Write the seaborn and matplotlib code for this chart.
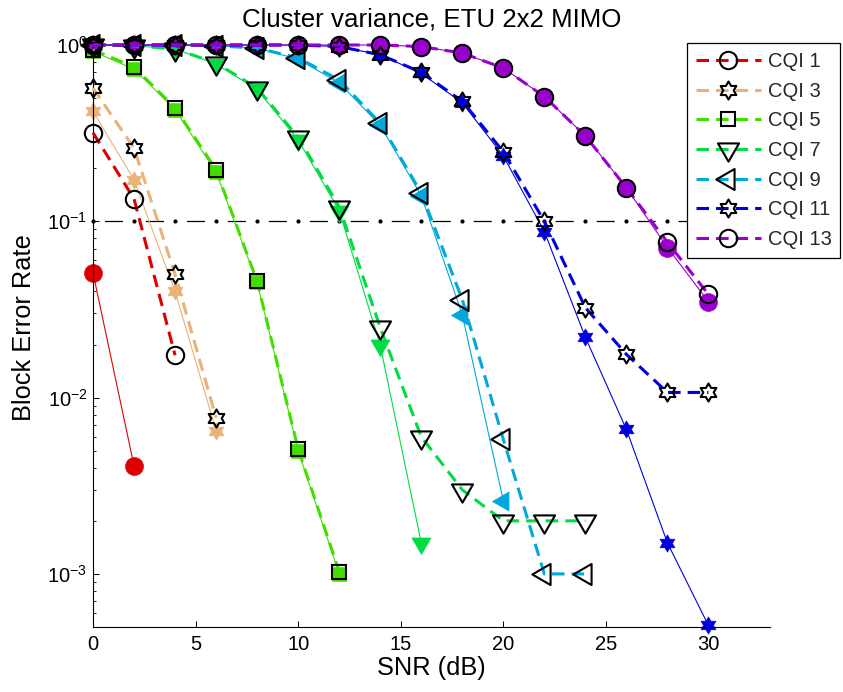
import numpy as np
import matplotlib
matplotlib.use("Agg")
import matplotlib.pyplot as plt
from matplotlib.path import Path
from matplotlib.ticker import LogLocator, NullFormatter, FixedLocator
import pandas as pd
import seaborn as sns

sns.set_theme(style="ticks")
plt.rcParams["font.family"] = ["Liberation Sans", "DejaVu Sans"]
plt.rcParams["mathtext.fontset"] = "custom"
plt.rcParams["mathtext.rm"] = "Liberation Sans"
plt.rcParams["mathtext.it"] = "Liberation Sans:italic"
plt.rcParams["mathtext.bf"] = "Liberation Sans:bold"

# ---------------------------------------------------------------- data
title = "Cluster variance, ETU 2x2 MIMO"
x_label = "SNR (dB)"
y_label = "Block Error Rate"
cqi_labels = ["CQI 1", "CQI 3", "CQI 5", "CQI 7", "CQI 9", "CQI 11", "CQI 13"]
cqi_colors = ["#dd0000", "#e9b277", "#44dd00", "#00dd44", "#00a8dc", "#0000dd", "#9a00cc"]

snr_cqi1_solid = [0, 2]
bler_cqi1_solid = [0.051, 0.0041]
snr_cqi1_dashed = [0, 2, 4]
bler_cqi1_dashed = [0.318, 0.134, 0.0174]

snr_cqi3 = [0, 2, 4, 6]
bler_cqi3_solid = [0.42, 0.172, 0.040, 0.0065]
bler_cqi3_dashed = [0.57, 0.26, 0.050, 0.0077]

snr_cqi5 = [0, 2, 4, 6, 8, 10, 12]
bler_cqi5_solid = [0.92, 0.73, 0.43, 0.19, 0.045, 0.0050, 0.0010]
bler_cqi5_dashed = [0.94, 0.75, 0.44, 0.196, 0.0456, 0.0051, 0.00103]

snr_cqi7_solid = [0, 2, 4, 6, 8, 10, 12, 14, 16]
bler_cqi7_solid = [1.0, 0.99, 0.95, 0.78, 0.56, 0.29, 0.115, 0.0198, 0.0015]
snr_cqi7_dashed = [0, 2, 4, 6, 8, 10, 12, 14, 16, 18, 20, 22, 24]
bler_cqi7_dashed = [1.0, 0.99, 0.95, 0.79, 0.57, 0.30, 0.121, 0.025, 0.0060,
                    0.0030, 0.0020, 0.0020, 0.0020]

snr_cqi9_solid = [0, 2, 4, 6, 8, 10, 12, 14, 16, 18, 20]
bler_cqi9_solid = [1.0, 1.0, 1.0, 0.99, 0.96, 0.83, 0.61, 0.35, 0.14, 0.0296, 0.0026]
snr_cqi9_dashed = [0, 2, 4, 6, 8, 10, 12, 14, 16, 18, 20, 22, 24]
bler_cqi9_dashed = [1.0, 1.0, 1.0, 0.99, 0.96, 0.845, 0.634, 0.36, 0.145, 0.036,
                    0.0058, 0.0010, 0.0010]

snr_cqi11 = [0, 2, 4, 6, 8, 10, 12, 14, 16, 18, 20, 22, 24, 26, 28, 30]
bler_cqi11_solid = [1.0, 1.0, 1.0, 1.0, 1.0, 1.0, 0.98, 0.88, 0.69, 0.47, 0.235,
                    0.0875, 0.022, 0.0066, 0.0015, 0.00051]
bler_cqi11_dashed = [1.0, 1.0, 1.0, 1.0, 1.0, 1.0, 0.98, 0.88, 0.70, 0.48, 0.248,
                     0.100, 0.0324, 0.0176, 0.0107, 0.0107]

snr_cqi13 = [0, 2, 4, 6, 8, 10, 12, 14, 16, 18, 20, 22, 24, 26, 28, 30]
bler_cqi13_solid = [1.0, 1.0, 1.0, 1.0, 1.0, 1.0, 1.0, 1.0, 0.98, 0.90, 0.74,
                    0.51, 0.305, 0.155, 0.071, 0.035]
bler_cqi13_dashed = [1.0, 1.0, 1.0, 1.0, 1.0, 1.0, 1.0, 1.0, 0.98, 0.90, 0.74,
                     0.51, 0.305, 0.155, 0.076, 0.0385]

target_bler = 0.1
target_snr = [0, 2, 4, 6, 8, 10, 12, 14, 16, 18, 20, 22, 24, 26, 28, 30, 32]

x_ticks = [0, 5, 10, 15, 20, 25, 30]
x_limits = (0, 33)
y_limits = (5e-4, 1.0)


# ---------------------------------------------------------------- markers
def hexagram():
    ang = np.pi / 2 + np.arange(12) * np.pi / 6
    r = np.where(np.arange(12) % 2 == 0, 1.0, 1.0 / np.sqrt(3))
    v = np.column_stack([r * np.cos(ang), r * np.sin(ang)])
    v = np.vstack([v, v[:1]])
    return Path(v, [Path.MOVETO] + [Path.LINETO] * 11 + [Path.CLOSEPOLY])


def triangle(direction):
    start = {"down": -90, "left": 180}[direction]
    ang = np.deg2rad(start + np.array([0, 120, 240, 0]))
    v = np.column_stack([np.cos(ang), np.sin(ang)])
    return Path(v, [Path.MOVETO, Path.LINETO, Path.LINETO, Path.CLOSEPOLY])


HEX = hexagram()
TRI_DOWN = triangle("down")
TRI_LEFT = triangle("left")

cqi_markers = ["o", HEX, "s", TRI_DOWN, TRI_LEFT, HEX, "o"]
# marker sizes (solid/filled, dashed/open)
cqi_msize = [(13, 12.5), (12.5, 13), (10, 10), (16, 17.5), (16, 17.5), (12.5, 13), (13, 12.5)]

solid_series = [
    (snr_cqi1_solid, bler_cqi1_solid),
    (snr_cqi3, bler_cqi3_solid),
    (snr_cqi5, bler_cqi5_solid),
    (snr_cqi7_solid, bler_cqi7_solid),
    (snr_cqi9_solid, bler_cqi9_solid),
    (snr_cqi11, bler_cqi11_solid),
    (snr_cqi13, bler_cqi13_solid),
]
dashed_series = [
    (snr_cqi1_dashed, bler_cqi1_dashed),
    (snr_cqi3, bler_cqi3_dashed),
    (snr_cqi5, bler_cqi5_dashed),
    (snr_cqi7_dashed, bler_cqi7_dashed),
    (snr_cqi9_dashed, bler_cqi9_dashed),
    (snr_cqi11, bler_cqi11_dashed),
    (snr_cqi13, bler_cqi13_dashed),
]

# ---------------------------------------------------------------- figure
fig = plt.figure(figsize=(8.43, 6.92), dpi=100)
ax = fig.add_axes([93 / 843, 65 / 692, 677 / 843, 582 / 692])
ax.set_yscale("log")

# target BLER reference line (dash between dots every 2 dB)
lw_t = 0.9
on, off = 13.0, 16.5
ax.plot(target_snr, [target_bler] * len(target_snr), color="black", lw=lw_t,
        linestyle=((on + off / 2) / lw_t, (on / lw_t, off / lw_t)),
        marker="o", ms=3.0, mec="black", mfc="black", mew=0, zorder=1.5,
        clip_on=False)

# thin solid curves with filled markers
for (snr, bler), color, marker, (ms, _) in zip(solid_series, cqi_colors, cqi_markers, cqi_msize):
    df = pd.DataFrame({"snr": snr, "bler": bler})
    sns.lineplot(data=df, x="snr", y="bler", ax=ax, color=color, lw=0.8,
                 marker=marker, markersize=ms, markerfacecolor=color,
                 markeredgecolor=color, markeredgewidth=0.4, clip_on=False,
                 zorder=2, legend=False)

# thick dashed curves with open markers
handles = []
dash_lw = 2.2
for (snr, bler), color, marker, (_, ms), label in zip(dashed_series, cqi_colors, cqi_markers,
                                                      cqi_msize, cqi_labels):
    df = pd.DataFrame({"snr": snr, "bler": bler})
    sns.lineplot(data=df, x="snr", y="bler", ax=ax, color=color, lw=dash_lw,
                 linestyle=(0, (4.1, 2.3)), marker=marker, markersize=ms,
                 markerfacecolor="none", markeredgecolor="black",
                 markeredgewidth=1.5, clip_on=False, zorder=3, label=label,
                 legend=False)
    handles.append(ax.lines[-1])

# ---------------------------------------------------------------- axes styling
ax.set_xlim(*x_limits)
ax.set_ylim(*y_limits)
ax.xaxis.set_major_locator(FixedLocator(x_ticks))
ax.yaxis.set_major_locator(LogLocator(base=10, numticks=10))
ax.yaxis.set_minor_locator(LogLocator(base=10, subs=np.arange(2, 10), numticks=20))
ax.yaxis.set_minor_formatter(NullFormatter())

for side in ("top", "right"):
    ax.spines[side].set_visible(False)
for side in ("left", "bottom"):
    ax.spines[side].set_color("black")
    ax.spines[side].set_linewidth(0.8)
ax.grid(False)
ax.set_facecolor("white")

ax.tick_params(axis="both", which="major", direction="in", length=4.3, width=0.7,
               colors="black", labelsize=14.5)
ax.tick_params(axis="y", which="minor", direction="in", length=2.3, width=0.6, colors="black")
ax.tick_params(axis="x", pad=6)
ax.tick_params(axis="y", pad=4)

ax.set_xlabel(x_label, fontsize=18.3, color="black")
ax.xaxis.set_label_coords(0.5, -0.050)
ax.xaxis.label.set_va("top")
ax.set_ylabel(y_label, fontsize=18.3, color="black", va="center")
ax.yaxis.set_label_coords(-0.102, 0.515)
ax.set_title(title, fontsize=18.6, color="black", pad=13)

leg = ax.legend(handles=handles, labels=cqi_labels, loc="upper left",
                bbox_to_anchor=(687 / 843, 1 - 43 / 692), bbox_transform=fig.transFigure,
                borderaxespad=0, fontsize=14.5, handlelength=3.2, handletextpad=0.35,
                labelspacing=0.53, borderpad=0.45, frameon=True, fancybox=False,
                framealpha=1, edgecolor="black", facecolor="white")
leg.get_frame().set_linewidth(0.9)
leg.set_zorder(10)

fig.savefig("out.png", dpi=100, facecolor="white")
